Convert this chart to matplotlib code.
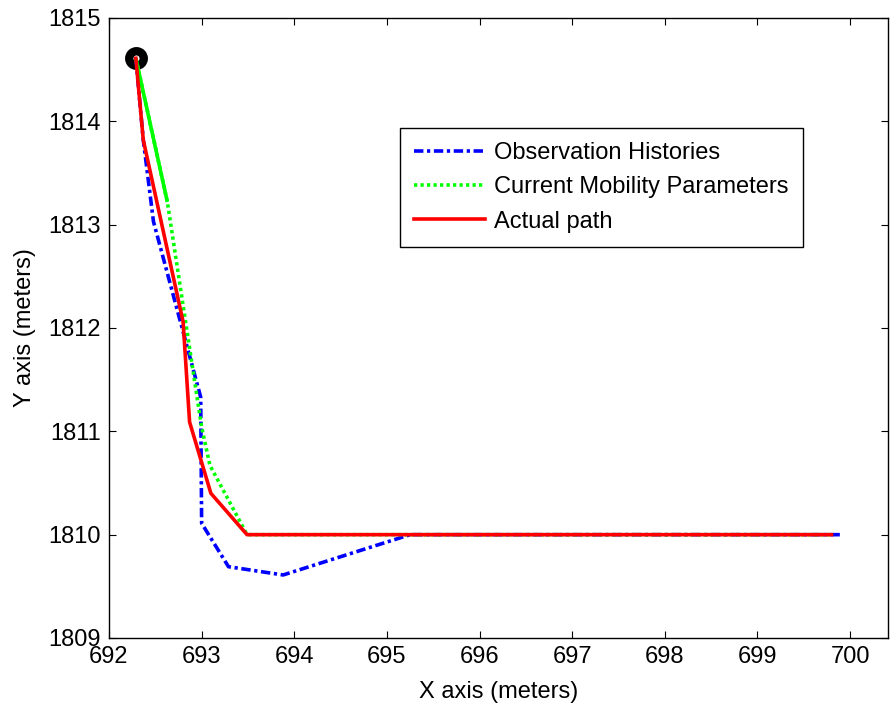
import numpy as np
import matplotlib
matplotlib.use("Agg")
import matplotlib.pyplot as plt

plt.rcParams["font.family"] = ["Liberation Sans", "DejaVu Sans"]

# path data (meters)
obs_x = [692.29, 692.37, 692.48, 692.99, 693.00, 693.29, 693.88, 695.25, 699.89]
obs_y = [1814.61, 1813.82, 1813.03, 1811.33, 1810.11, 1809.69, 1809.61, 1810.00, 1810.00]

mob_x = [692.29, 692.63, 693.00, 693.09, 693.49, 699.80]
mob_y = [1814.61, 1813.22, 1811.04, 1810.67, 1810.00, 1810.00]

act_x = [692.29, 692.37, 692.80, 692.87, 693.10, 693.49, 699.80]
act_y = [1814.61, 1813.82, 1812.06, 1811.09, 1810.40, 1810.00, 1810.00]

start_x = [692.29]
start_y = [1814.61]

xticks = np.arange(692, 701, 1)
yticks = np.arange(1809, 1816, 1)

FS = 17
LW = 2.6

fig = plt.figure(figsize=(8.9, 7.09), dpi=100)
ax = fig.add_axes([109 / 890, 1 - 638 / 709, 779 / 890, 620 / 709])

ax.plot(obs_x, obs_y, color="#0000ff", lw=LW, dashes=[2.6, 1.0, 0.9, 1.0],
        label="Observation Histories")
ax.plot(mob_x, mob_y, color="#00ff00", lw=LW, dashes=[0.9, 0.9],
        label="Current Mobility Parameters")
# first green segment renders as solid in the original
ax.plot(mob_x[:2], mob_y[:2], color="#00ff00", lw=LW, solid_capstyle="butt")
ax.plot(act_x, act_y, color="#ff0000", lw=LW, label="Actual path")

ax.plot(start_x, start_y, "o", ms=10.5, mew=6, mec="black", mfc="white", zorder=1)

ax.set_xlim(692, 700.41)
ax.set_ylim(1809, 1815)
ax.set_xticks(xticks)
ax.set_yticks(yticks)
ax.tick_params(direction="in", length=5, width=0.8, top=True, right=True,
               labelsize=FS, pad=6)
for sp in ax.spines.values():
    sp.set_linewidth(1.0)

ax.set_xlabel("X axis (meters)", fontsize=FS, labelpad=9)
ax.set_ylabel("Y axis (meters)", fontsize=FS, labelpad=9)

leg = ax.legend(loc="upper left", bbox_to_anchor=((400 - 109) / 779, 1 - (128 - 18) / 620),
                fontsize=FS, handlelength=3.0, handletextpad=0.4,
                labelspacing=0.52, borderaxespad=0, borderpad=0.6,
                fancybox=False, framealpha=1, edgecolor="black")
leg.get_frame().set_linewidth(1.0)

fig.savefig("out.png", dpi=100)
